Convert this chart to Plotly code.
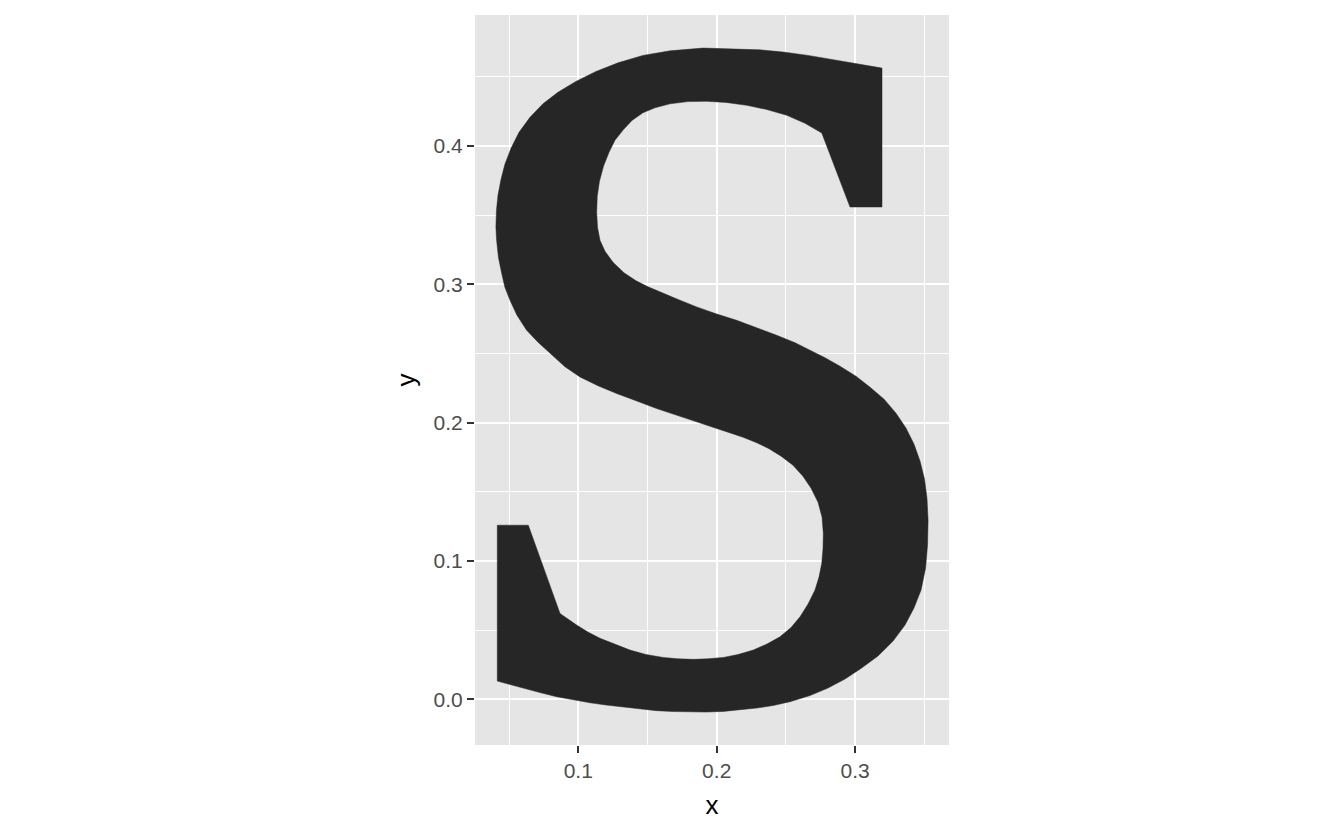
import plotly.graph_objects as go

# outline of the letter S, traced clockwise from the top right serif
s_x = [0.3194, 0.3194, 0.2963, 0.2759, 0.2638, 0.2506, 0.2356, 0.2217, 0.2067, 0.1928,
       0.1793, 0.1663, 0.1554, 0.1467, 0.1388, 0.1325, 0.1265, 0.1222, 0.1182, 0.1153,
       0.1137, 0.1133, 0.1139, 0.1157, 0.1193, 0.1251, 0.1330, 0.1417, 0.1504, 0.1614,
       0.1735, 0.1855, 0.1995, 0.2144, 0.2284, 0.2433, 0.2566, 0.2674, 0.2782, 0.2891,
       0.3006, 0.3108, 0.3209, 0.3295, 0.3368, 0.3425, 0.3469, 0.3501, 0.3519, 0.3527,
       0.3523, 0.3509, 0.3476, 0.3425, 0.3360, 0.3274, 0.3165, 0.3042, 0.2927, 0.2804,
       0.2674, 0.2530, 0.2407, 0.2289, 0.2168, 0.2048, 0.1923, 0.1807, 0.1684, 0.1566,
       0.1446, 0.1325, 0.1200, 0.1085, 0.0962, 0.0844, 0.0723, 0.0603, 0.0507, 0.0415,
       0.0415, 0.0639, 0.0868, 0.0988, 0.1070, 0.1157, 0.1265, 0.1374, 0.1489, 0.1614,
       0.1720, 0.1831, 0.1937, 0.2048, 0.2154, 0.2264, 0.2363, 0.2457, 0.2537, 0.2602,
       0.2660, 0.2710, 0.2739, 0.2759, 0.2768, 0.2770, 0.2761, 0.2732, 0.2681, 0.2623,
       0.2551, 0.2465, 0.2378, 0.2289, 0.2190, 0.2096, 0.1973, 0.1855, 0.1711, 0.1566,
       0.1417, 0.1277, 0.1142, 0.1012, 0.0904, 0.0796, 0.0709, 0.0627, 0.0557, 0.0507,
       0.0470, 0.0447, 0.0423, 0.0410, 0.0405, 0.0409, 0.0420, 0.0442, 0.0470, 0.0514,
       0.0572, 0.0651, 0.0745, 0.0853, 0.0983, 0.1128, 0.1287, 0.1467, 0.1663, 0.1901,
       0.2144, 0.2313, 0.2481, 0.2660, 0.2842, 0.3021, 0.3194]
s_y = [0.4563, 0.3559, 0.3559, 0.4094, 0.4164, 0.4222, 0.4265, 0.4294, 0.4315, 0.4323,
       0.4321, 0.4305, 0.4276, 0.4240, 0.4185, 0.4117, 0.4041, 0.3954, 0.3853, 0.3745,
       0.3636, 0.3521, 0.3412, 0.3318, 0.3239, 0.3159, 0.3084, 0.3026, 0.2982, 0.2933,
       0.2885, 0.2837, 0.2787, 0.2740, 0.2690, 0.2632, 0.2578, 0.2524, 0.2470, 0.2408,
       0.2336, 0.2256, 0.2170, 0.2069, 0.1960, 0.1845, 0.1722, 0.1592, 0.1454, 0.1295,
       0.1115, 0.0949, 0.0790, 0.0660, 0.0537, 0.0421, 0.0313, 0.0223, 0.0147, 0.0082,
       0.0027, -0.0017, -0.0045, -0.0063, -0.0077, -0.0087, -0.0092, -0.0092, -0.0088, -0.0082,
       -0.0070, -0.0058, -0.0041, -0.0025, -0.0005, 0.0019, 0.0049, 0.0079, 0.0107, 0.0132,
       0.1259, 0.1259, 0.0621, 0.0537, 0.0486, 0.0441, 0.0396, 0.0356, 0.0324, 0.0303,
       0.0293, 0.0289, 0.0293, 0.0303, 0.0324, 0.0356, 0.0400, 0.0452, 0.0519, 0.0597,
       0.0689, 0.0790, 0.0884, 0.0983, 0.1093, 0.1199, 0.1317, 0.1425, 0.1527, 0.1613,
       0.1693, 0.1758, 0.1812, 0.1855, 0.1895, 0.1928, 0.1967, 0.2006, 0.2054, 0.2102,
       0.2159, 0.2211, 0.2267, 0.2331, 0.2404, 0.2500, 0.2582, 0.2668, 0.2777, 0.2885,
       0.2979, 0.3078, 0.3196, 0.3318, 0.3415, 0.3535, 0.3644, 0.3759, 0.3868, 0.3983,
       0.4099, 0.4207, 0.4305, 0.4388, 0.4467, 0.4539, 0.4601, 0.4655, 0.4688, 0.4708,
       0.4703, 0.4695, 0.4679, 0.4655, 0.4624, 0.4594, 0.4563]

x_ticks = [0.1, 0.2, 0.3]
x_labels = ["0.1", "0.2", "0.3"]
y_ticks = [0.0, 0.1, 0.2, 0.3, 0.4]
y_labels = ["0.0", "0.1", "0.2", "0.3", "0.4"]

fig = go.Figure()
fig.add_trace(go.Scatter(x=s_x, y=s_y, mode="lines", fill="toself",
                         fillcolor="#262626", line=dict(color="#262626", width=0.5),
                         hoverinfo="skip", showlegend=False))

axis_style = dict(
    showgrid=True, gridcolor="white", gridwidth=2.2,
    minor=dict(showgrid=True, gridcolor="white", gridwidth=1.1, dtick=0.05, tick0=0),
    zeroline=False, showline=False,
    ticks="outside", ticklen=7, tickwidth=2, tickcolor="#333333",
    tickfont=dict(size=21, color="#4D4D4D"),
    title_font=dict(size=26, color="black"),
)

fig.update_xaxes(range=[0.0254, 0.3678], tickvals=x_ticks, ticktext=x_labels,
                 title_text="x", title_standoff=14, **axis_style)
fig.update_yaxes(range=[-0.033, 0.4947], tickvals=y_ticks, ticktext=y_labels,
                 title_text="y", title_standoff=10, **axis_style)

# the page body adds an 8px offset, margins are reduced to compensate
fig.update_layout(
    width=1344, height=830,
    margin=dict(l=467, r=403, t=7, b=93),
    plot_bgcolor="#E5E5E5", paper_bgcolor="white",
    font=dict(family="Liberation Sans, Arial, sans-serif"),
)

fig.write_html("out.html")
